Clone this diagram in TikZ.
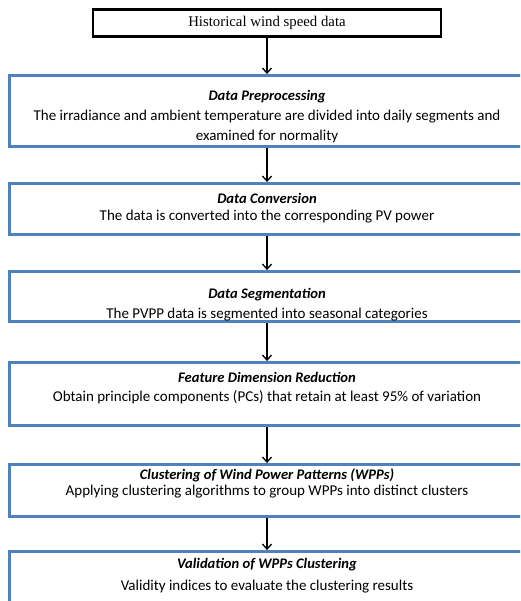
\documentclass[tikz,border=0pt]{standalone}
\usepackage{fontspec}
\setmainfont{Carlito}
\newfontfamily\timesfont{Liberation Serif}
\usetikzlibrary{arrows.meta}
\definecolor{boxblue}{RGB}{79,129,189}

\begin{document}
\begin{tikzpicture}[x=1pt, y=-1pt,
    stepbox/.style={draw=boxblue, line width=2.5pt, minimum width=515pt, inner sep=0pt},
    steptitle/.style={font=\fontsize{14.6}{17}\selectfont\bfseries\itshape},
    steptext/.style={font=\fontsize{15}{19.5}\selectfont, align=center},
    flow/.style={-{Straight Barb[length=5pt,width=9pt]}, line width=1.3pt}]
    % Frame
    \useasboundingbox (0,0) rectangle (520,601);
    \clip (0,0) rectangle (520,601);

    % Input data
    \node[draw, line width=2.8pt, minimum width=348pt, minimum height=27pt,
        inner sep=0pt, font=\timesfont\fontsize{14.8}{17}\selectfont]
        (hist) at (267,23) {Historical wind speed data};

    % Step boxes
    \node[stepbox, minimum height=71.4pt] (prep) at (267,111) {};
    \node[stepbox, minimum height=51.4pt] (conv) at (267,209) {};
    \node[stepbox, minimum height=50.4pt] (seg) at (267,296.5) {};
    \node[stepbox, minimum height=63.4pt] (pca) at (267,394) {};
    \node[stepbox, minimum height=52.4pt] (clus) at (267,490.5) {};
    \node[stepbox, minimum height=72.4pt] (valid) at (267,587.5) {};

    % Step texts
    \node[steptitle] (preptitle) at (267,97) {Data Preprocessing};
    \node[steptext] (preptext) at (267,126.5) {The irradiance and ambient temperature are divided into daily segments and\\examined for normality};
    \node[steptitle] (convtitle) at (267,198) {Data Conversion};
    \node[steptext] (convtext) at (267,217) {The data is converted into the corresponding PV power};
    \node[steptitle] (segtitle) at (267,295) {Data Segmentation};
    \node[steptext] (segtext) at (267,315) {The PVPP data is segmented into seasonal categories};
    \node[steptitle] (pcatitle) at (267,377) {Feature Dimension Reduction};
    \node[steptext] (pcatext) at (267,397) {Obtain principle components (PCs) that retain at least 95\% of variation};
    \node[steptitle] (clustitle) at (267,475) {Clustering of Wind Power Patterns (WPPs)};
    \node[steptext] (clustext) at (267,492) {Applying clustering algorithms to group WPPs into distinct clusters};
    \node[steptitle] (validtitle) at (267,565) {Validation of WPPs Clustering};
    \node[steptext] (validtext) at (267,587) {Validity indices to evaluate the clustering results};

    % Arrows
    \foreach \a/\b in {hist/prep, prep/conv, conv/seg, seg/pca, pca/clus, clus/valid}
        \draw[flow] (\a.south) -- (\b.north);
\end{tikzpicture}
\end{document}
